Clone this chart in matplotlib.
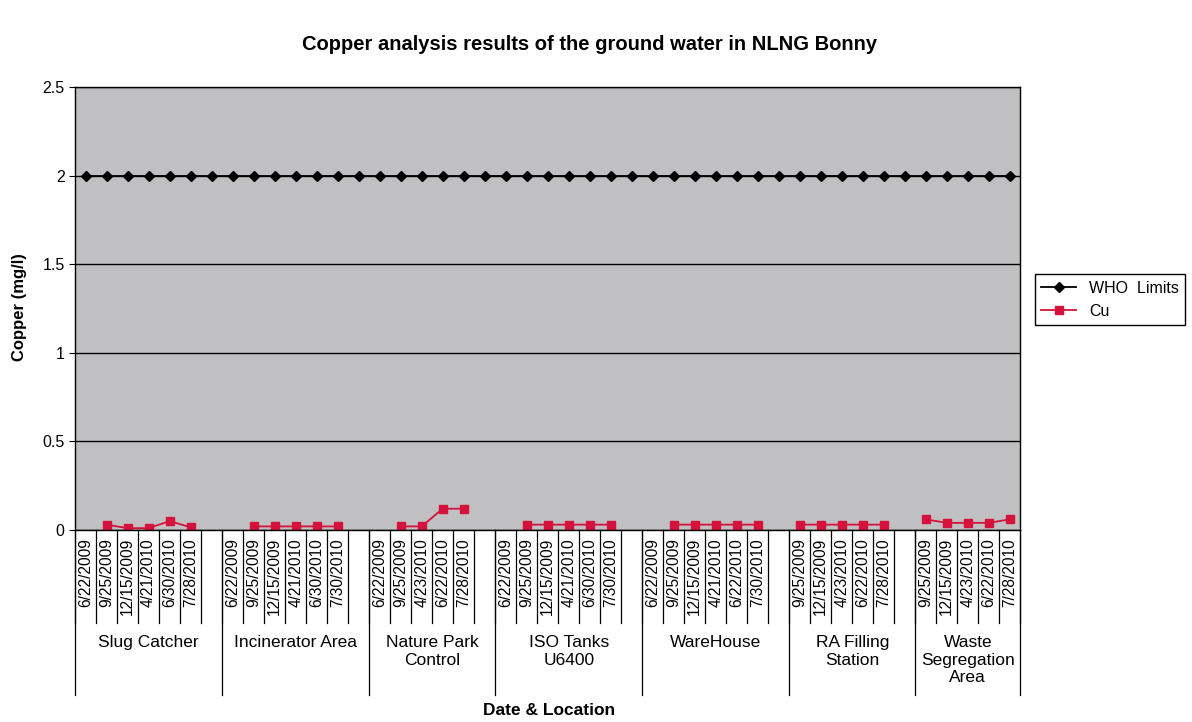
import matplotlib.pyplot as plt
import numpy as np

plt.rcParams['font.family'] = ['Liberation Sans', 'DejaVu Sans']

# locations (multi-line like the excel labels)
groups = ["Slug Catcher", "Incinerator Area", "Nature Park\nControl", "ISO Tanks\nU6400",
          "WareHouse", "RA Filling\nStation", "Waste\nSegregation\nArea"]

# sampling dates in each location ('' = empty category)
dates_slug = ["6/22/2009", "9/25/2009", "12/15/2009", "4/21/2010", "6/30/2010", "7/28/2010", ""]
dates_incin = ["6/22/2009", "9/25/2009", "12/15/2009", "4/21/2010", "6/30/2010", "7/30/2010", ""]
dates_nature = ["6/22/2009", "9/25/2009", "4/23/2010", "6/22/2010", "7/28/2010", ""]
dates_iso = ["6/22/2009", "9/25/2009", "12/15/2009", "4/21/2010", "6/30/2010", "7/30/2010", ""]
dates_ware = ["6/22/2009", "9/25/2009", "12/15/2009", "4/21/2010", "6/22/2010", "7/30/2010", ""]
dates_ra = ["9/25/2009", "12/15/2009", "4/23/2010", "6/22/2010", "7/28/2010", ""]
dates_waste = ["9/25/2009", "12/15/2009", "4/23/2010", "6/22/2010", "7/28/2010"]

nan = np.nan
# copper (mg/l)
cu_slug = [nan, 0.03, 0.01, 0.01, 0.05, 0.015, nan]
cu_incin = [nan, 0.02, 0.02, 0.02, 0.02, 0.02, nan]
cu_nature = [nan, 0.02, 0.02, 0.12, 0.12, nan]
cu_iso = [nan, 0.03, 0.03, 0.03, 0.03, 0.03, nan]
cu_ware = [nan, 0.03, 0.03, 0.03, 0.03, 0.03, nan]
cu_ra = [0.03, 0.03, 0.03, 0.03, 0.03, nan]
cu_waste = [0.06, 0.04, 0.04, 0.04, 0.06]

who_limit = 2.0

all_dates = [dates_slug, dates_incin, dates_nature, dates_iso, dates_ware, dates_ra, dates_waste]
all_cu = [cu_slug, cu_incin, cu_nature, cu_iso, cu_ware, cu_ra, cu_waste]

dates = sum(all_dates, [])
cu = np.array(sum(all_cu, []), dtype=float)
n = len(dates)
x = np.arange(n)
who = np.full(n, who_limit)

fig = plt.figure(figsize=(11.92, 7.22), dpi=100)
ax = fig.add_axes([0.063, 0.266, 0.793, 0.6135])
ax.set_facecolor('#c0c0c2')

ax.plot(x, who, '-', color='black', lw=1.3, marker='D', ms=5, label='WHO  Limits')
ax.plot(x, cu, '-', color='#d4123c', lw=1.3, marker='s', ms=6, label='Cu')

ax.set_xlim(-0.5, n - 0.5)
ax.set_ylim(0, 2.5)
ax.set_yticks([0, 0.5, 1, 1.5, 2, 2.5])
ax.set_yticklabels(['0', '0.5', '1', '1.5', '2', '2.5'], fontsize=11.5)
ax.grid(axis='y', color='black', lw=1)
ax.set_xticks([])
ax.tick_params(axis='y', length=4, direction='out')
for s in ax.spines.values():
    s.set_color('black')
    s.set_linewidth(1)

trans = ax.get_xaxis_transform()

# date labels and short separators
for i, d in enumerate(dates):
    ax.text(i, -0.018, d, rotation=90, ha='center', va='top', fontsize=11.2, transform=trans)
for b in np.arange(n + 1) - 0.5:
    ax.plot([b, b], [0, -0.21], color='black', lw=0.9, transform=trans, clip_on=False)

# location labels and long separators
start = 0
ax.plot([-0.5, -0.5], [0, -0.372], color='black', lw=0.9, transform=trans, clip_on=False)
for g, d in zip(groups, all_dates):
    end = start + len(d)
    ax.plot([end - 0.5, end - 0.5], [0, -0.372], color='black', lw=0.9, transform=trans, clip_on=False)
    ax.text((start + end - 1) / 2, -0.238, g, ha='center', va='top', fontsize=12.5,
            linespacing=1.2, transform=trans)
    start = end

fig.text(0.495, 0.938, "Copper analysis results of the ground water in NLNG Bonny",
         ha='center', va='center', fontsize=14.5, fontweight='bold')
fig.text(0.016, 0.575, "Copper (mg/l)", rotation=90, ha='center', va='center',
         fontsize=12, fontweight='bold')
fig.text(0.461, 0.016, "Date & Location", ha='center', va='center', fontsize=12.5, fontweight='bold')

leg = ax.legend(loc='upper left', bbox_to_anchor=(0.868, 0.62), bbox_transform=fig.transFigure,
                fancybox=False, edgecolor='black', fontsize=11.5, handlelength=2.2,
                borderaxespad=0, framealpha=1)
leg.get_frame().set_linewidth(1)

fig.savefig('out.png', dpi=100)
